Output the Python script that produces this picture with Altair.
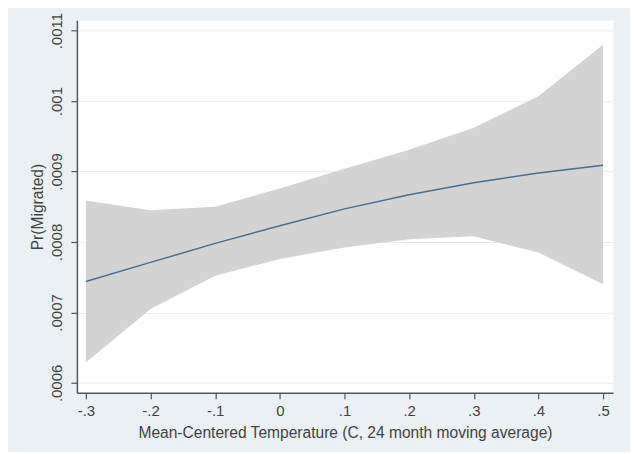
import altair as alt
import pandas as pd

# Data
temp = [-0.3, -0.2, -0.1, 0.0, 0.1, 0.2, 0.3, 0.4, 0.5]
fit = [0.000744, 0.000771, 0.000798, 0.000823, 0.000847, 0.000867, 0.000884, 0.000898, 0.000909]
upper = [0.000859, 0.000845, 0.000850, 0.000876, 0.000904, 0.000931, 0.000962, 0.001007, 0.001080]
lower = [0.000629, 0.000705, 0.000752, 0.000776, 0.000792, 0.000804, 0.000808, 0.000785, 0.000740]

x_ticks = [-0.3, -0.2, -0.1, 0.0, 0.1, 0.2, 0.3, 0.4, 0.5]
y_ticks = [0.0006, 0.0007, 0.0008, 0.0009, 0.001, 0.0011]

x_title = "Mean-Centered Temperature (C, 24 month moving average)"
y_title = "Pr(Migrated)"

df = pd.DataFrame({"temp": temp, "fit": fit, "lo": lower, "hi": upper})

FONT = "Liberation Sans"
TXT = "#444444"
AX = "#555555"

xs = alt.Scale(domain=[-0.3139, 0.5154], nice=False, zero=False)
ys = alt.Scale(domain=[0.000586, 0.0011146], nice=False, zero=False)

x_axis = alt.Axis(
    values=x_ticks,
    title=x_title,
    labelExpr="datum.value == 0 ? '0' : (datum.value < 0 ? '-' : '') + replace(format(abs(datum.value), '.1f'), '0.', '.')",
    grid=False,
    labelPadding=5,
    titlePadding=7,
)
y_axis = alt.Axis(
    values=y_ticks,
    title=y_title,
    labelExpr="slice(format(datum.value, '.4~f'), 1)",
    grid=True,
    gridColor="#E6ECF1",
    gridWidth=1,
    labelAngle=-90,
    labelAlign="center",
    labelBaseline="bottom",
    labelPadding=6,
    titlePadding=4,
)

band = alt.Chart(df).mark_area(color="#D3D3D3", opacity=1).encode(
    x=alt.X("temp:Q", scale=xs, axis=x_axis),
    y=alt.Y("lo:Q", scale=ys, axis=y_axis),
    y2="hi:Q",
)

line = alt.Chart(df).mark_line(color="#4A6E90", strokeWidth=1.5).encode(
    x=alt.X("temp:Q", scale=xs, axis=x_axis),
    y=alt.Y("fit:Q", scale=ys, axis=y_axis),
)

chart = (
    alt.layer(band, line)
    .properties(
        width=537,
        height=373,
        background="#EAF0F4",
        padding={"left": 69, "top": 12, "right": 17, "bottom": 59},
        autosize=alt.AutoSizeParams(type="none"),
    )
    .configure_view(fill="white", stroke="transparent")
    .configure_axis(
        domainColor=AX,
        domainWidth=1.5,
        tickColor=AX,
        tickWidth=1.2,
        tickSize=6,
        labelFont=FONT,
        labelFontSize=15,
        labelColor=TXT,
        titleFont=FONT,
        titleFontSize=15.6,
        titleFontWeight="normal",
        titleColor=TXT,
    )
)

chart.save("out.html", embed_options={"renderer": "svg", "actions": False})
